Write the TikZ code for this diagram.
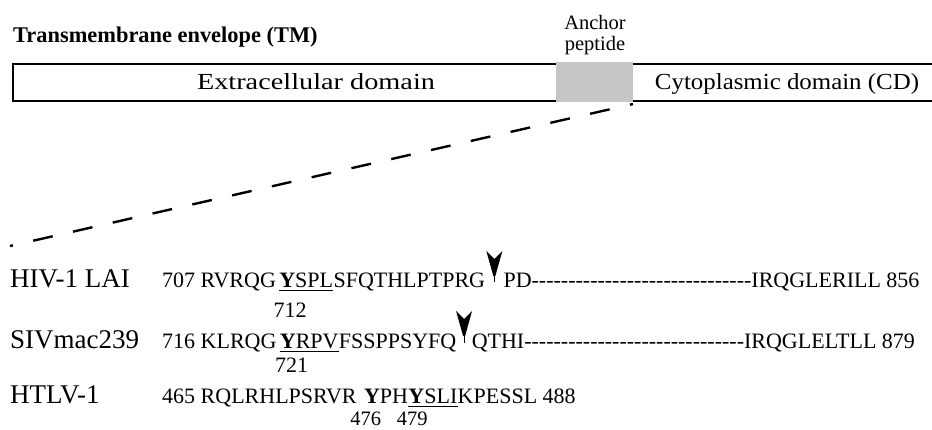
\documentclass[tikz,border=0pt]{standalone}
\usepackage{fontspec}
\setmainfont{Liberation Serif}
\usetikzlibrary{calc}
\newcommand\hyph[1]{\foreach \i in {1,...,#1}{-\kern0pt}}
\begin{document}
\begin{tikzpicture}[x=1pt,y=-1pt,
  seq/.style={font=\fontsize{22}{26}\selectfont, inner sep=0pt, anchor=base west},
  lab/.style={font=\fontsize{27}{32}\selectfont, inner sep=0pt, anchor=base west},
  num/.style={font=\fontsize{22}{26}\selectfont, inner sep=0pt, anchor=base},
  smallnum/.style={font=\fontsize{20.5}{24}\selectfont, inner sep=0pt, anchor=base},
  boxtext/.style={font=\fontsize{23}{27}\selectfont, inner sep=0pt, anchor=base},
  anctext/.style={font=\fontsize{20.5}{24}\selectfont, inner sep=0pt, anchor=base},
  uline/.style={line width=1pt},
  cleave/.style={fill=black},
  stem/.style={line width=1.1pt},
  ]
\useasboundingbox (0,0) rectangle (932,429);

% title
\node[font=\bfseries\fontsize{22.4}{26}\selectfont, inner sep=0pt, anchor=base west] (title) at (13,42) {Transmembrane envelope (TM)};

% envelope bar
\draw[line width=1.8pt] (934,64) -- (13,64) -- (13,101) -- (934,101);
\node[fill=gray!45, minimum width=77pt, minimum height=40pt, inner sep=0pt, anchor=north west] (anchor) at (556,62) {};
\node[anctext] (anc1) at (595,29) {Anchor};
\node[anctext] (anc2) at (595,50) {peptide};
\node[boxtext] (ext) at (316,89) {\resizebox{238pt}{\height}{Extracellular domain}};
\node[boxtext] (cyt) at (787,89) {\resizebox{264pt}{\height}{Cytoplasmic domain (CD)}};

% zoom line
\coordinate (z1) at (633,104);
\coordinate (z2) at (10,246);
\draw[line width=2.4pt, dash pattern=on 20pt off 20.8pt, dash phase=17pt] (z2) -- (z1);

% HIV-1 LAI
\node[lab] (hivl) at (10,287) {HIV-1 LAI};
\node[seq] (h1) at (162,287) {707 RVRQG};
\node[seq] (h2) at ($(h1.base east)+(3,0)$) {\textbf{Y}SPL};
\node[seq] (h3) at (h2.base east) {SFQTHLPTPRG};
\node[seq] (h4) at ($(h3.base east)+(18,0)$) {PD\hyph{30}IRQGLERILL 856};
\draw[uline] ([yshift=-3.5pt]h2.base west) -- ([yshift=-3.5pt]h2.base east);
\node[num] (n712) at ($(h2.base west)+(11,30)$) {712};
\coordinate (ha) at ($(h3.base east)+(9,-36)$);
\draw[stem] ($(ha)+(0,10)$) -- ($(ha)+(0,31)$);
\fill[cleave] (ha) ++(-8,0) -- ++(8,8) -- ++(8,-8) -- ++(-7,25) -- ++(-2,0) -- cycle;

% SIVmac239
\node[lab] (sivl) at (10,348) {SIVmac239};
\node[seq] (s1) at (162,348) {716 KLRQG};
\node[seq] (s2) at ($(s1.base east)+(3,0)$) {\textbf{Y}RPV};
\node[seq] (s3) at (s2.base east) {FSSPPSYFQ};
\node[seq] (s4) at ($(s3.base east)+(15,0)$) {QTHI\hyph{30}IRQGLELTLL 879};
\draw[uline] ([yshift=-3.5pt]s2.base west) -- ([yshift=-3.5pt]s2.base east);
\node[num] (n721) at ($(s2.base west)+(12,24)$) {721};
\coordinate (sa) at ($(s3.base east)+(7.5,-37)$);
\draw[stem] ($(sa)+(0,10)$) -- ($(sa)+(0,32)$);
\fill[cleave] (sa) ++(-8,0) -- ++(8,8) -- ++(8,-8) -- ++(-7,25) -- ++(-2,0) -- cycle;

% HTLV-1
\node[lab] (htl) at (10,403) {HTLV-1};
\node[seq] (t1) at (162,403) {465 RQLRHLPSRVR};
\node[seq] (t2) at ($(t1.base east)+(7,0)$) {\textbf{Y}PH};
\node[seq] (t3) at (t2.base east) {\textbf{Y}SLI};
\node[seq] (t4) at (t3.base east) {KPESSL 488};
\draw[uline] ([yshift=-3.5pt]t3.base west) -- ([yshift=-3.5pt]t3.base east);
\node[smallnum] (n476) at ($(t2.base west)+(2,22)$) {476};
\node[smallnum] (n479) at ($(t3.base west)+(4,22)$) {479};
\end{tikzpicture}
\end{document}
